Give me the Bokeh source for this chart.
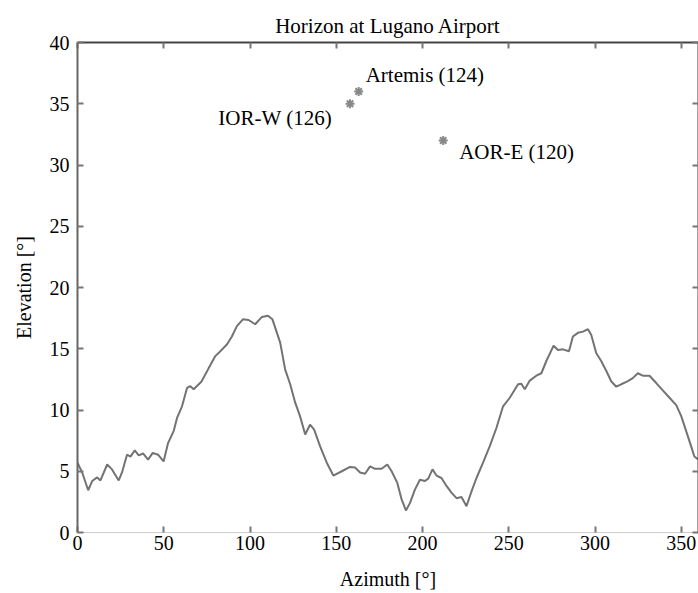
from bokeh.plotting import figure
from bokeh.models import LinearAxis, FixedTicker, ColumnDataSource
from bokeh.embed import file_html
from bokeh.resources import INLINE
from bokeh.core.properties import value

# Horizon profile (azimuth in degrees, elevation in degrees)
azimuth = [0, 2.7, 6.2, 8.5, 11.4, 13.3, 17.2, 20, 23.9, 25.8,
           28.7, 30.7, 33.2, 35.5, 38, 40.9, 43.6, 46.7, 49.9, 52.5,
           55.8, 57.7, 60.6, 63.5, 65.4, 67.3, 71.8, 76, 79.9, 82.8,
           86.6, 89.5, 92.4, 95.9, 99.2, 103, 106.9, 110.4, 113, 117.5,
           120.4, 123.3, 126.2, 129, 132, 134.8, 137.2, 140.6, 144.5, 148.3,
           153.2, 158, 160.9, 163.8, 166.7, 169.6, 172.5, 176.3, 179.6, 182.1,
           185.4, 187.9, 190.4, 192.7, 195.6, 198.5, 201.4, 203.3, 205.8, 208.1,
           211, 213.9, 216.8, 219.7, 222.6, 225.5, 228.4, 231.3, 235.1, 239,
           242.9, 246.7, 250.6, 255.4, 257.3, 259.3, 262.2, 266, 268.9, 271.8,
           276, 278.5, 281.4, 284.9, 287.2, 290.1, 293, 295.9, 297.8, 300.7,
           303.6, 306.5, 309.4, 312.3, 315.2, 319.1, 321.9, 324.8, 327.7, 331.6,
           335.5, 339.3, 343.2, 347.1, 350, 352.8, 355.7, 357.6, 360]
elevation = [5.7, 4.9, 3.45, 4.2, 4.5, 4.25, 5.55, 5.15, 4.25, 4.9,
             6.35, 6.2, 6.7, 6.3, 6.45, 5.95, 6.5, 6.35, 5.8, 7.3,
             8.3, 9.35, 10.3, 11.8, 11.95, 11.7, 12.3, 13.4, 14.4, 14.8,
             15.35, 16, 16.85, 17.4, 17.35, 17, 17.6, 17.7, 17.4, 15.5,
             13.3, 12.1, 10.6, 9.5, 8.0, 8.8, 8.4, 7.05, 5.7, 4.65,
             5.0, 5.35, 5.3, 4.9, 4.8, 5.4, 5.2, 5.2, 5.55, 5.0,
             4.05, 2.7, 1.8, 2.4, 3.5, 4.3, 4.2, 4.4, 5.15, 4.65,
             4.45, 3.8, 3.25, 2.8, 2.9, 2.15, 3.35, 4.45, 5.7, 7.05,
             8.55, 10.3, 11.0, 12.1, 12.15, 11.7, 12.4, 12.8, 13.0, 14.0,
             15.25, 14.9, 14.95, 14.8, 16.0, 16.3, 16.4, 16.6, 16.15, 14.65,
             14.0, 13.2, 12.35, 11.9, 12.1, 12.35, 12.6, 13.0, 12.8, 12.8,
             12.2, 11.6, 11.0, 10.4, 9.5, 8.3, 7.05, 6.2, 5.95]

# Satellites
sat_names = ["Artemis (124)", "IOR-W (126)", "AOR-E (120)"]
sat_azimuth = [163, 158, 212]
sat_elevation = [36, 35, 32]

x_ticks = [0, 50, 100, 150, 200, 250, 300, 350]
y_ticks = [0, 5, 10, 15, 20, 25, 30, 35, 40]

# label styling (offsets in screen pixels)
label_dx = [7, -18, 16]
label_dy = [-17, 14, 11]
label_align = ["left", "right", "left"]

FONT = "Liberation Serif"

p = figure(width=698, height=592, x_range=(0, 360), y_range=(0, 40),
           output_backend="svg", toolbar_location=None,
           min_border_left=77, min_border_right=0, min_border_top=42,
           min_border_bottom=59)

p.title.text = "Horizon at Lugano Airport"
p.title.align = "center"
p.title.text_font = FONT
p.title.text_font_size = "21px"
p.title.text_font_style = "normal"
p.title.text_color = "black"
p.title.standoff = 10

p.grid.visible = False
p.outline_line_color = None
p.background_fill_color = "white"
p.border_fill_color = "white"

def style_axis(ax, ticks, labels=True):
    ax.ticker = FixedTicker(ticks=ticks)
    ax.major_tick_in = 6
    ax.major_tick_out = 0
    ax.minor_tick_in = 0
    ax.minor_tick_out = 0
    ax.major_tick_line_color = "#777777"
    ax.major_tick_line_width = 2
    ax.major_label_text_font = FONT
    ax.major_label_text_font_size = "20px"
    ax.major_label_text_color = "black"
    ax.axis_label_text_font = FONT
    ax.axis_label_text_font_size = "20px"
    ax.axis_label_text_font_style = "normal"
    ax.axis_label_text_color = "black"
    if not labels:
        ax.major_label_overrides = {t: "" for t in ticks}
        ax.major_label_standoff = 0

style_axis(p.xaxis[0], x_ticks)
style_axis(p.yaxis[0], y_ticks)
p.xaxis.axis_label = "Azimuth [°]"
p.yaxis.axis_label = "Elevation [°]"
p.xaxis.axis_line_color = "#cccccc"
p.xaxis.axis_line_width = 1
p.xaxis.major_label_standoff = 3
p.xaxis.axis_label_standoff = 15
p.yaxis.axis_line_color = "#666666"
p.yaxis.axis_line_width = 2
p.yaxis.major_label_standoff = 8
p.yaxis.axis_label_standoff = 12

top = LinearAxis()
style_axis(top, x_ticks, labels=False)
top.axis_line_color = "#444444"
top.axis_line_width = 2
p.add_layout(top, "above")

right = LinearAxis()
style_axis(right, y_ticks, labels=False)
right.axis_line_color = "#444444"
right.axis_line_width = 2
p.add_layout(right, "right")

p.line(azimuth, elevation, line_color="#737373", line_width=2)

sat_src = ColumnDataSource(dict(x=sat_azimuth, y=sat_elevation, name=sat_names,
                                dx=label_dx, dy=label_dy, align=label_align))
p.scatter("x", "y", source=sat_src, marker="asterisk", size=9,
          line_color="#888888", line_width=2)
p.text("x", "y", text="name", source=sat_src, x_offset="dx", y_offset="dy",
       text_align="align", text_baseline="middle", text_font=value(FONT),
       text_font_size="21px", text_color="black")

open("out.html", "w").write(file_html(p, INLINE))
